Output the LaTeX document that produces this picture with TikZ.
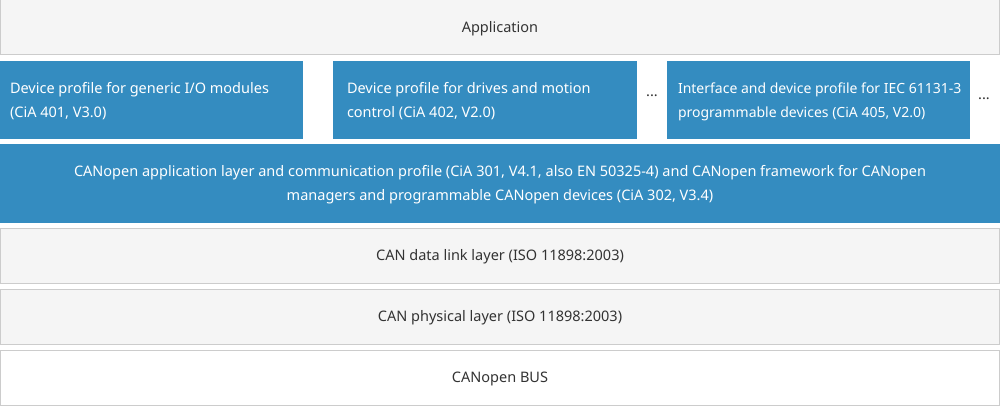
\documentclass[tikz,border=0pt]{standalone}
\usepackage{fontspec}
\setmainfont{Noto Sans}
\definecolor{blu}{HTML}{348CC0}
\definecolor{bord}{HTML}{CCCCCC}
\definecolor{gfill}{HTML}{F5F5F5}
\definecolor{txt}{HTML}{333333}
\begin{document}
\begin{tikzpicture}[x=1pt,y=-1pt]
\tikzset{
  base/.style={inner sep=0pt, outer sep=0pt, font=\fontsize{14.5}{24}\selectfont},
  graybox/.style={base, draw=bord, fill=gfill, line width=1pt, text=txt, minimum width=999pt, minimum height=55pt, text height=14pt, text depth=4pt},
  whitebox/.style={graybox, fill=white},
  bluebox/.style={base, fill=blu, minimum height=78pt},
  bluetext/.style={base, text=white, align=left, anchor=west},
  dots/.style={base, text=txt}
}
\useasboundingbox (0,0) rectangle (1000,406);
\node[graybox] (app) at (500,27.5) {Application};
\node[bluebox, minimum width=303pt] (p401) at (151.5,100) {};
\node[bluetext] (t401) at (10,101.5) {Device profile for generic I/O modules\\(CiA 401, V3.0)};
\node[bluebox, minimum width=304pt] (p402) at (485,100) {};
\node[bluetext] (t402) at (347,101.5) {Device profile for drives and motion\\control (CiA 402, V2.0)};
\node[dots] (d1) at (652,96) {...};
\node[bluebox, minimum width=303pt] (p405) at (818.5,100) {};
\node[bluetext, font=\fontsize{14}{24}\selectfont] (t405) at (678,101.5) {Interface and device profile for IEC 61131-3\\programmable devices (CiA 405, V2.0)};
\node[dots] (d2) at (984,99) {...};
\node[base, fill=blu, minimum width=1000pt, minimum height=79pt] (co) at (500,183.5) {};
\node[base, text=white, align=center] (tco) at (500,185) {CANopen application layer and communication profile (CiA 301, V4.1, also EN 50325-4) and CANopen framework for CANopen\\managers and programmable CANopen devices (CiA 302, V3.4)};
\node[graybox] (dl) at (500,255.5) {CAN data link layer (ISO 11898:2003)};
\node[graybox] (ph) at (500,316.5) {CAN physical layer (ISO 11898:2003)};
\node[whitebox] (bus) at (500,377.5) {CANopen BUS};
\end{tikzpicture}
\end{document}
